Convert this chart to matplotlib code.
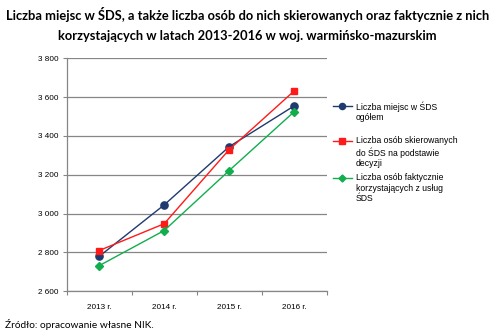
import matplotlib.pyplot as plt
from matplotlib.lines import Line2D

# ---- data ---------------------------------------------------------------
years = ["2013 r.", "2014 r.", "2015 r.", "2016 r."]
miejsca = [2780, 3045, 3345, 3555]        # Liczba miejsc w ŚDS ogółem
skierowani = [2810, 2948, 3330, 3632]     # skierowani na podstawie decyzji
korzystajacy = [2732, 2913, 3222, 3525]   # faktycznie korzystający
y_ticks = [2600, 2800, 3000, 3200, 3400, 3600, 3800]

labels = ["Liczba miejsc w ŚDS\nogółem",
          "Liczba osób skierowanych\ndo ŚDS na podstawie\ndecyzji",
          "Liczba osób faktycznie\nkorzystających z usług\nŚDS"]
colours = ["#1F3A6F", "#FF1A1A", "#12AE4E"]
markers = ["o", "s", "D"]
msizes = [5.2, 4.6, 4.2]

W, H = 495, 336
fig = plt.figure(figsize=(W / 100, H / 100), dpi=100)
ax = fig.add_axes([66.7 / W, 1 - 291.3 / H, 260 / W, 233 / H])

x = range(len(years))
for vals, c, m, ms in zip([miejsca, skierowani, korzystajacy], colours, markers, msizes):
    ax.plot(x, vals, color=c, lw=1.0, marker=m, ms=ms, mfc=c, mec=c, zorder=3)

ax.set_xlim(-0.5, len(years) - 0.5)
ax.set_ylim(2600, 3800)
ax.set_yticks(y_ticks)
ax.set_yticklabels([f"{v // 1000} {v % 1000:03d}" for v in y_ticks])
ax.set_xticks(x)
ax.set_xticklabels(years)
ax.set_xticks([i - 0.5 for i in range(len(years) + 1)], minor=True)
ax.tick_params(axis="x", which="major", length=0, pad=9)
ax.tick_params(axis="x", which="minor", length=3, color="#868686", width=0.8)
ax.tick_params(axis="y", length=3, color="#868686", width=0.8, pad=3)
for lab in ax.get_xticklabels() + ax.get_yticklabels():
    lab.set_fontfamily("Liberation Sans")
    lab.set_fontsize(5.9)
    lab.set_color("black")
ax.grid(axis="y", color="#868686", lw=0.9)
ax.set_axisbelow(True)
for s in ["top", "right"]:
    ax.spines[s].set_visible(False)
for s in ["left", "bottom"]:
    ax.spines[s].set_color("#868686")
    ax.spines[s].set_linewidth(0.9)

# ---- legend (handle beside first line of each label, like Excel) --------
leg_y = [106, 141, 178]
for lab, c, m, ms, yy in zip(labels, colours, markers, msizes, leg_y):
    fig.add_artist(Line2D([333 / W, 351.5 / W], [1 - yy / H] * 2, color=c, lw=1.0))
    fig.add_artist(Line2D([342.4 / W], [1 - yy / H], color=c, marker=m,
                          ms=ms * 0.85, mfc=c, mec=c))
    fig.text(356 / W, 1 - (yy - 5) / H, lab, ha="left", va="top",
             family="Liberation Sans", fontsize=6.2, linespacing=1.25)

fig.text(0.5, 1 - 7 / H,
         "Liczba miejsc w ŚDS, a także liczba osób do nich skierowanych oraz faktycznie z nich\n"
         "korzystających w latach 2013-2016 w woj. warmińsko-mazurskim",
         ha="center", va="top", family="Lato", weight="bold", fontsize=9.3,
         linespacing=1.75)
fig.text(5 / W, 1 - 325 / H, "Źródło: opracowanie własne NIK.", ha="left",
         va="center", family="Lato", fontsize=7.3)

fig.savefig("out.png", dpi=100)
